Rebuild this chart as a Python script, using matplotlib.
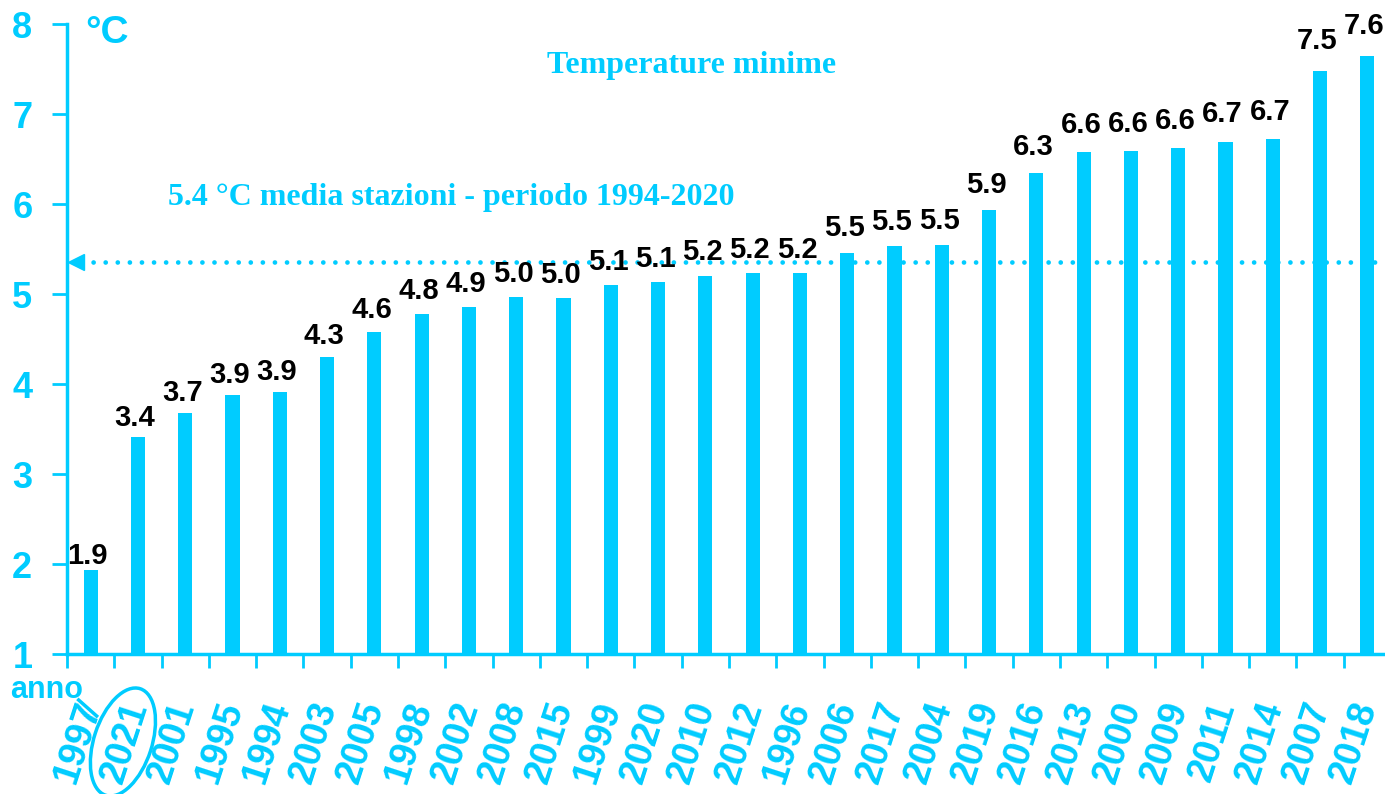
import matplotlib
matplotlib.use("Agg")
import matplotlib.pyplot as plt
from matplotlib.patches import Ellipse
from matplotlib.lines import Line2D
from matplotlib import transforms
import numpy as np

#### data ####
anni = ['1997', '2021', '2001', '1995', '1994', '2003', '2005', '1998', '2002', '2008',
        '2015', '1999', '2020', '2010', '2012', '1996', '2006', '2017', '2004', '2019',
        '2016', '2013', '2000', '2009', '2011', '2014', '2007', '2018']
tmin = [1.93, 3.41, 3.68, 3.88, 3.91, 4.30, 4.58, 4.78, 4.86, 4.97,
        4.96, 5.10, 5.13, 5.20, 5.23, 5.23, 5.46, 5.53, 5.54, 5.93,
        6.34, 6.58, 6.59, 6.62, 6.69, 6.72, 7.48, 7.64]
media = 5.36
titolo = 'Temperature minime'
nota_media = '5.4 °C media stazioni - periodo 1994-2020'

#### configure plot ####
CYAN = '#00CCFF'
plt.rcParams['font.family'] = ['Liberation Sans', 'DejaVu Sans']
plt.rcParams['font.weight'] = 'bold'

fig = plt.figure(figsize=(13.85, 7.94), dpi=100)
ax = fig.add_axes([67/1385, 140/794, 1324/1385, 630/794])

x = np.arange(len(anni))
ax.bar(x, tmin, width=0.3, color=CYAN, zorder=2)

# value labels, a bit higher above the taller bars as in the original
for xi, v in zip(x, tmin):
    ax.text(xi - 0.06, v + 0.01 + (v - 2) * 0.03, f'{v:.1f}', ha='center', va='bottom',
            fontsize=21, fontweight='bold', color='black', zorder=4)

# mean line with arrow head
ax.plot([-0.2, len(anni) - 0.5], [media, media], color=CYAN, lw=3.4,
        linestyle=(0, (0.01, 2.55)), dash_capstyle='round', zorder=3, clip_on=False)
ax.plot([-0.3], [media], marker='<', color=CYAN, markersize=12, zorder=3, clip_on=False)

ax.set_xlim(-0.5, len(anni) - 0.5)
ax.set_ylim(1, 8)

for s in ['top', 'right']:
    ax.spines[s].set_visible(False)
for s in ['left', 'bottom']:
    ax.spines[s].set_color(CYAN)
    ax.spines[s].set_linewidth(2.5)

ax.set_yticks(range(1, 9))
ax.tick_params(axis='y', colors=CYAN, labelsize=26, length=11, width=2, pad=14)
for t in ax.get_yticklabels():
    t.set_fontweight('bold')

ax.set_xticks(np.arange(len(anni) + 1) - 0.5)
ax.set_xticklabels([])
ax.tick_params(axis='x', which='major', colors=CYAN, length=10, width=2)
ax.set_xticks(x, minor=True)
ax.set_xticklabels(anni, minor=True, rotation=72, ha='right', va='center',
                   rotation_mode='anchor', fontsize=27, fontweight='bold', color=CYAN)
ax.tick_params(axis='x', which='minor', length=0, pad=35)

# texts
ax.text(0.03, 0.985, '°C', transform=ax.transAxes, fontsize=28, fontweight='bold',
        color=CYAN, va='center', ha='center')
fig.text(10/1385, 1 - 690/794, 'anno', fontsize=22, fontweight='bold', color=CYAN,
         va='center', ha='left')
fig.text(692/1385, 1 - 65/794, titolo, family=['Liberation Serif'], fontsize=23,
         fontweight='bold', color=CYAN, ha='center', va='center')
fig.text(451/1385, 1 - 197/794, nota_media, family=['Liberation Serif'], fontsize=23,
         fontweight='bold', color=CYAN, ha='center', va='center')

# ellipse around 2021
px, py = ax.transData.transform((1, 1))
ell = Ellipse((px - 15, py - 88), width=112, height=58, angle=72, fill=False,
              edgecolor=CYAN, lw=2.5, transform=transforms.IdentityTransform())
fig.patches.append(ell)
ell.set_figure(fig)
p0x, p0y = ax.transData.transform((0, 1))
fig.lines.append(Line2D([p0x - 12, p0x + 6], [p0y - 46, p0y - 62], color=CYAN, lw=2.5,
                        transform=transforms.IdentityTransform()))

fig.savefig('out.png', dpi=100)
